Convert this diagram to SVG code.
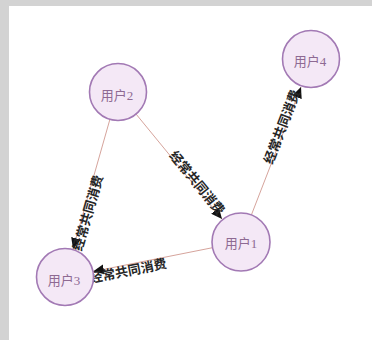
<svg xmlns="http://www.w3.org/2000/svg" width="372" height="340" viewBox="0 0 372 340">
  <style>
    .node circle { fill: #f4e8f6; stroke: #a279b4; stroke-width: 1.6; }
    .node text { font-family: "Liberation Serif", "Noto Sans CJK SC", serif; font-size: 13px; fill: #8e6a93; text-anchor: middle; dominant-baseline: central; }
    .edge { stroke: #d6a49c; stroke-width: 1; fill: none; marker-end: url(#arrow); }
    .elabel { font-family: "Liberation Serif", "Noto Sans CJK SC", serif; font-size: 13px; font-weight: bold; fill: #262626; text-anchor: middle; dominant-baseline: central; }
  </style>
  <defs>
    <marker id="arrow" markerUnits="userSpaceOnUse" markerWidth="12" markerHeight="10" refX="11" refY="5" orient="auto">
      <path d="M0,0 L11,5 L0,10 Z" fill="#111"/>
    </marker>
  </defs>
  <rect x="0" y="0" width="372" height="340" fill="#d3d3d3"/>
  <rect x="9" y="6" width="363" height="334" fill="#ffffff"/>
  <g id="connectors">
    <line class="edge" x1="136" y1="114" x2="222" y2="219"/>
    <line class="edge" x1="110" y1="119" x2="73" y2="249"/>
    <line class="edge" x1="212.5" y1="247.7" x2="93" y2="271.5"/>
    <line class="edge" x1="251.4" y1="214.9" x2="301" y2="87"/>
    <text class="elabel" transform="translate(197,183) rotate(50.6)">经常共同消费</text>
    <text class="elabel" transform="translate(88,213) rotate(-74)">经常共同消费</text>
    <text class="elabel" transform="translate(128,271) rotate(-11.2)">经常共同消费</text>
    <text class="elabel" transform="translate(282,127) rotate(-69)">经常共同消费</text>
  </g>
  <g id="node-user1" class="node">
    <circle cx="241" cy="242" r="29"/>
    <text x="241" y="243">用户1</text>
  </g>
  <g id="node-user2" class="node">
    <circle cx="118" cy="92" r="28.5"/>
    <text x="117" y="95">用户2</text>
  </g>
  <g id="node-user3" class="node">
    <circle cx="65" cy="277" r="28.5"/>
    <text x="64" y="280">用户3</text>
  </g>
  <g id="node-user4" class="node">
    <circle cx="311" cy="59" r="28.5"/>
    <text x="310" y="61">用户4</text>
  </g>
</svg>
